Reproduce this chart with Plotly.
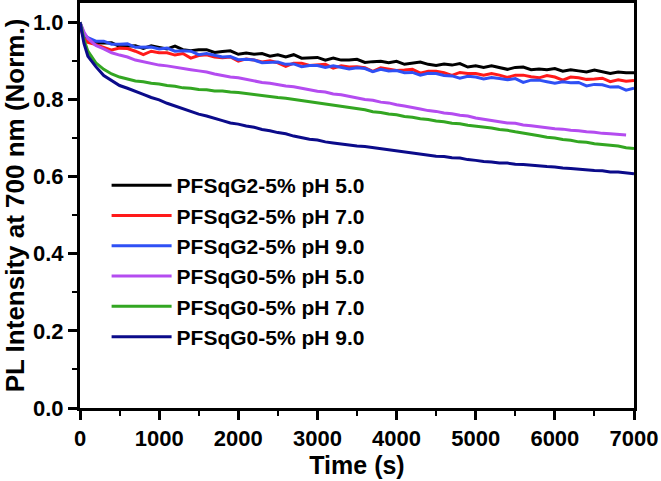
import plotly.graph_objects as go

# time axis (s)
time_s = [0, 20, 50] + list(range(100, 7001, 100))

g2_ph5 = [1.000, 0.984, 0.966,
          0.958, 0.946, 0.946, 0.947, 0.937, 0.938, 0.939, 0.932, 0.939, 0.935,
          0.931, 0.938, 0.929, 0.926, 0.929, 0.929, 0.922, 0.924, 0.926, 0.917,
          0.920, 0.917, 0.919, 0.912, 0.916, 0.910, 0.916, 0.907, 0.908, 0.909,
          0.902, 0.907, 0.902, 0.902, 0.904, 0.896, 0.898, 0.899, 0.895, 0.899,
          0.891, 0.895, 0.897, 0.891, 0.888, 0.892, 0.889, 0.893, 0.884, 0.887,
          0.883, 0.887, 0.883, 0.878, 0.883, 0.884, 0.877, 0.879, 0.877, 0.880,
          0.873, 0.877, 0.874, 0.871, 0.876, 0.872, 0.867, 0.871, 0.869, 0.869]

g2_ph7 = [1.000, 0.978, 0.958,
          0.948, 0.942, 0.936, 0.928, 0.933, 0.932, 0.925, 0.916, 0.925, 0.921,
          0.921, 0.915, 0.919, 0.907, 0.914, 0.916, 0.910, 0.908, 0.910, 0.899,
          0.905, 0.902, 0.897, 0.900, 0.895, 0.886, 0.894, 0.894, 0.888, 0.889,
          0.891, 0.881, 0.887, 0.884, 0.885, 0.882, 0.873, 0.882, 0.879, 0.875,
          0.876, 0.878, 0.868, 0.873, 0.873, 0.869, 0.862, 0.870, 0.867, 0.867,
          0.863, 0.867, 0.863, 0.857, 0.863, 0.863, 0.859, 0.856, 0.862, 0.858,
          0.850, 0.858, 0.856, 0.852, 0.853, 0.855, 0.846, 0.851, 0.847, 0.849]

g2_ph9 = [1.000, 0.986, 0.970,
          0.960, 0.951, 0.951, 0.943, 0.943, 0.944, 0.935, 0.936, 0.936, 0.931,
          0.933, 0.925, 0.926, 0.925, 0.916, 0.919, 0.914, 0.910, 0.911, 0.903,
          0.904, 0.902, 0.895, 0.896, 0.897, 0.891, 0.892, 0.885, 0.888, 0.888,
          0.883, 0.887, 0.883, 0.879, 0.882, 0.880, 0.872, 0.878, 0.874, 0.875,
          0.869, 0.870, 0.863, 0.868, 0.867, 0.862, 0.861, 0.855, 0.860, 0.858,
          0.853, 0.857, 0.854, 0.851, 0.854, 0.844, 0.850, 0.850, 0.846, 0.842,
          0.846, 0.843, 0.844, 0.835, 0.839, 0.838, 0.832, 0.833, 0.824, 0.829]

g0_ph5 = [1.000, 0.990, 0.975,
          0.958, 0.940, 0.931, 0.921, 0.915, 0.910, 0.902, 0.898, 0.893, 0.889,
          0.887, 0.883, 0.881, 0.877, 0.874, 0.871, 0.866, 0.862, 0.858, 0.856,
          0.852, 0.849, 0.844, 0.842, 0.838, 0.835, 0.833, 0.829, 0.826, 0.821,
          0.819, 0.814, 0.812, 0.808, 0.805, 0.800, 0.798, 0.793, 0.791, 0.786,
          0.783, 0.778, 0.775, 0.771, 0.769, 0.765, 0.763, 0.759, 0.757, 0.752,
          0.749, 0.745, 0.743, 0.739, 0.738, 0.734, 0.732, 0.729, 0.727, 0.724,
          0.723, 0.720, 0.719, 0.716, 0.715, 0.712, 0.711, 0.709, 0.708, None]

g0_ph7 = [1.000, 0.985, 0.955,
          0.925, 0.895, 0.878, 0.866, 0.858, 0.853, 0.848, 0.846, 0.842, 0.840,
          0.836, 0.834, 0.830, 0.829, 0.826, 0.825, 0.822, 0.822, 0.819, 0.818,
          0.815, 0.813, 0.810, 0.808, 0.805, 0.803, 0.800, 0.798, 0.794, 0.792,
          0.788, 0.786, 0.782, 0.780, 0.776, 0.773, 0.768, 0.766, 0.762, 0.760,
          0.756, 0.754, 0.750, 0.748, 0.744, 0.742, 0.738, 0.737, 0.733, 0.731,
          0.728, 0.726, 0.722, 0.720, 0.716, 0.713, 0.709, 0.706, 0.702, 0.700,
          0.696, 0.694, 0.690, 0.689, 0.685, 0.683, 0.680, 0.679, 0.675, 0.673]

g0_ph9 = [1.000, 0.975, 0.945,
          0.912, 0.885, 0.862, 0.849, 0.836, 0.829, 0.820, 0.813, 0.805, 0.799,
          0.790, 0.783, 0.775, 0.769, 0.762, 0.757, 0.750, 0.745, 0.739, 0.736,
          0.731, 0.728, 0.722, 0.719, 0.714, 0.711, 0.705, 0.701, 0.697, 0.695,
          0.690, 0.687, 0.684, 0.682, 0.679, 0.678, 0.675, 0.673, 0.669, 0.667,
          0.663, 0.661, 0.658, 0.656, 0.653, 0.652, 0.649, 0.648, 0.644, 0.642,
          0.639, 0.638, 0.635, 0.635, 0.632, 0.631, 0.629, 0.628, 0.626, 0.625,
          0.622, 0.621, 0.619, 0.618, 0.616, 0.615, 0.612, 0.612, 0.609, 0.607]

series_names = ["PFSqG2-5% pH 5.0", "PFSqG2-5% pH 7.0", "PFSqG2-5% pH 9.0",
                "PFSqG0-5% pH 5.0", "PFSqG0-5% pH 7.0", "PFSqG0-5% pH 9.0"]
series_values = [g2_ph5, g2_ph7, g2_ph9, g0_ph5, g0_ph7, g0_ph9]
series_colors = ["#000000", "#FF1A1A", "#2F50F5", "#B44CF0", "#33A622", "#0B0B8A"]

x_ticks = [0, 1000, 2000, 3000, 4000, 5000, 6000, 7000]
y_ticks = [0.0, 0.2, 0.4, 0.6, 0.8, 1.0]

FONT = "Liberation Sans, Arial, sans-serif"

fig = go.Figure()
for name, vals, col in zip(series_names, series_values, series_colors):
    fig.add_trace(go.Scatter(x=time_s, y=vals, name=name, mode="lines",
                             line=dict(color=col, width=3)))

axis_common = dict(
    showline=True, linecolor="black", linewidth=3, mirror=True,
    ticks="outside", ticklen=9, tickwidth=2.5, tickcolor="black",
    showgrid=False, zeroline=False, automargin=False,
    tickfont=dict(family=FONT, size=22, color="black", weight="bold"),
)

fig.update_layout(
    width=661, height=481,
    margin=dict(l=80, r=27, t=3, b=73),
    paper_bgcolor="white", plot_bgcolor="white",
    font=dict(family=FONT, color="black"),
    xaxis=dict(**axis_common, range=[0, 7000], tickvals=x_ticks,
               ticktext=[str(v) for v in x_ticks],
               minor=dict(dtick=500, ticks="outside", ticklen=5, tickwidth=2, tickcolor="black"),
               title=dict(text="Time (s)", font=dict(family=FONT, size=25, weight="bold"), standoff=2)),
    yaxis=dict(**axis_common, range=[0, 1.05], tickvals=y_ticks,
               ticktext=[f"{v:.1f}" for v in y_ticks],
               minor=dict(dtick=0.1, ticks="outside", ticklen=5, tickwidth=2, tickcolor="black"),
               title=dict(text="PL Intensity at 700 nm (Norm.)", font=dict(family=FONT, size=26, weight="bold"), standoff=4)),
    legend=dict(x=0.048, y=0.6, xanchor="left", yanchor="top",
                bgcolor="rgba(0,0,0,0)", borderwidth=0, itemwidth=60,
                font=dict(family=FONT, size=21, color="black", weight="bold"),
                tracegroupgap=0),
    showlegend=True,
)

fig.write_html("out.html", config={"displayModeBar": False},
               post_script="document.body.style.margin='0';document.body.style.padding='0';")
